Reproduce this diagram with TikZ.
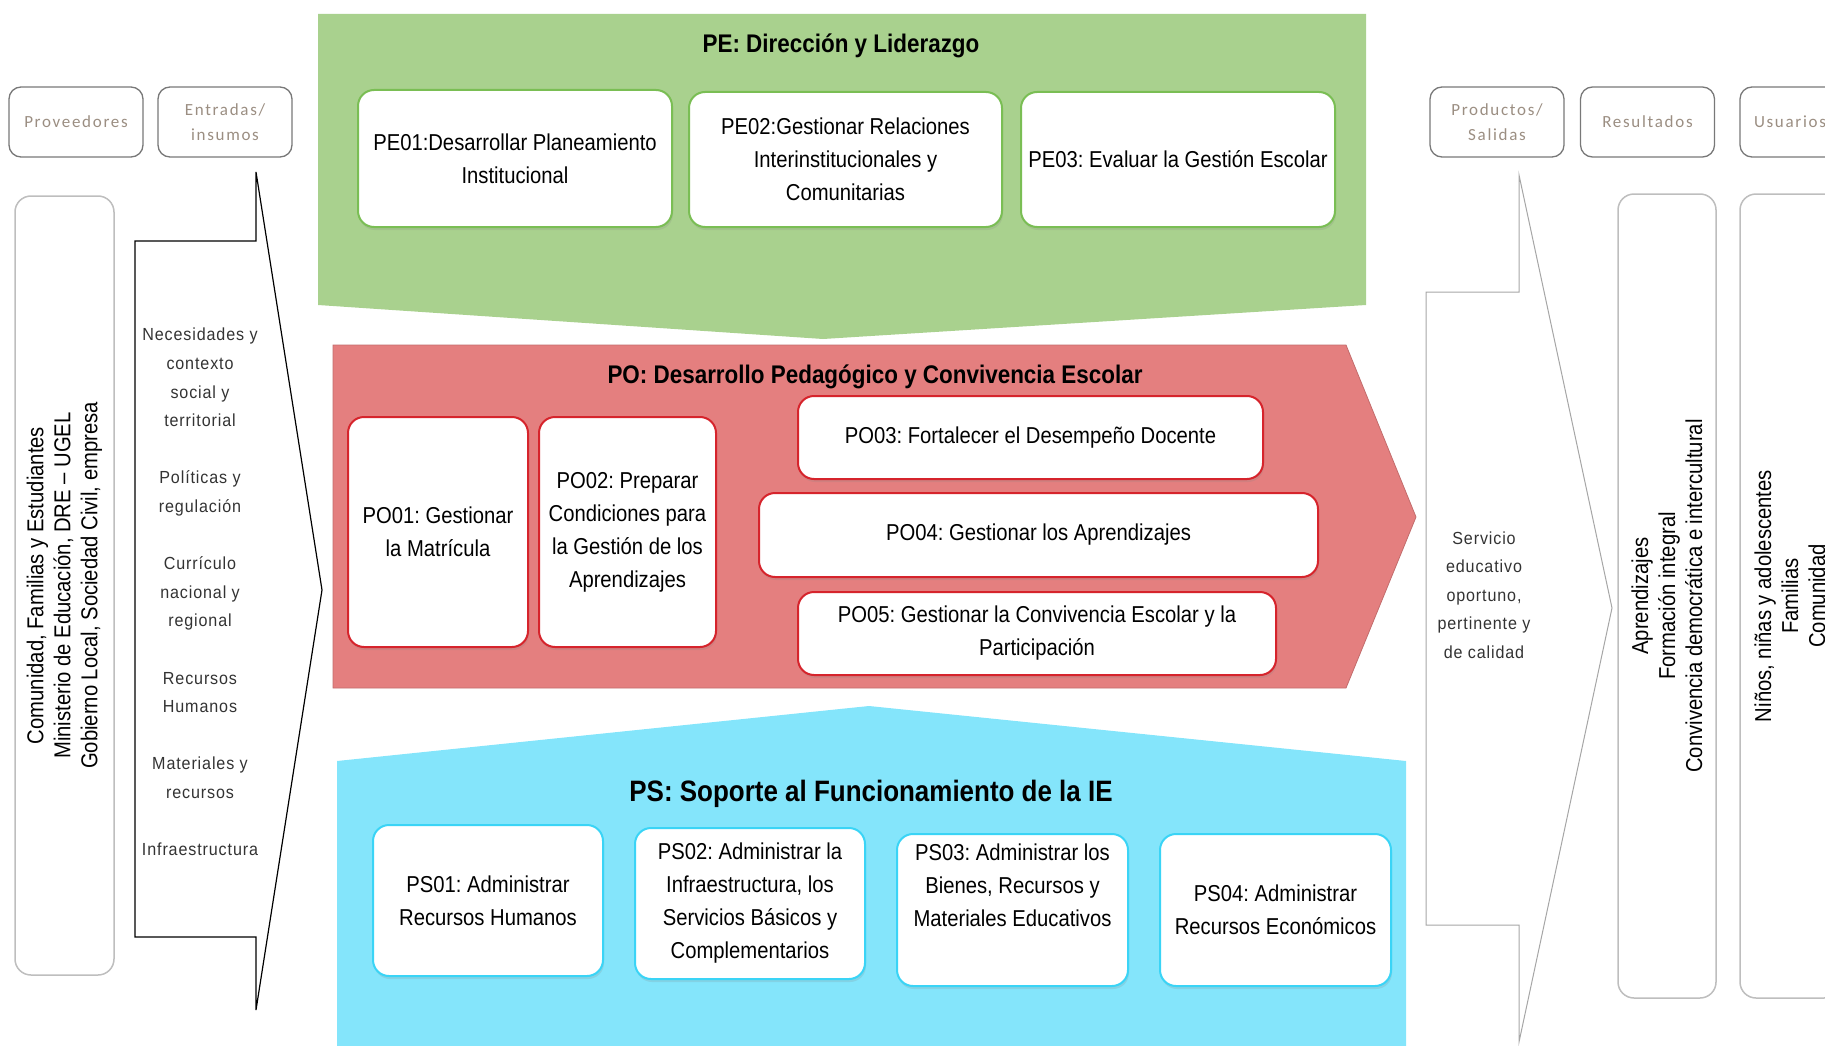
\documentclass[tikz,border=0pt]{standalone}
\usepackage{fontspec}
\setmainfont{Liberation Sans}
\newfontfamily\narrowfont[FakeStretch=0.88]{Liberation Sans}
\newfontfamily\listfont[FakeStretch=0.92,LetterSpace=5]{Liberation Sans}
\newfontfamily\hdrfont[LetterSpace=10]{Carlito}
\usetikzlibrary{shadows}
\frenchspacing
\definecolor{pegreen}{RGB}{169,209,142}
\definecolor{pegreenline}{RGB}{122,190,84}
\definecolor{pored}{RGB}{228,127,127}
\definecolor{poredline}{RGB}{214,36,44}
\definecolor{pscyan}{RGB}{132,229,251}
\definecolor{pscyanline}{RGB}{58,212,246}
\definecolor{hdrtext}{RGB}{155,142,130}
\definecolor{hdrline}{RGB}{120,120,120}
\definecolor{tallline}{RGB}{190,190,190}
\tikzstyle{hdr} = [rectangle, rounded corners=12pt, draw=hdrline, line width=1.3pt, fill=white, minimum width=134pt, minimum height=70pt, inner sep=0pt, align=center, text=hdrtext, font=\hdrfont\fontsize{17}{25}\selectfont]
\tikzstyle{tallbox} = [rectangle, rounded corners=16pt, draw=tallline, line width=1.5pt, fill=white, rotate=90, inner sep=0pt, align=center, font=\narrowfont\fontsize{23}{27}\selectfont]
\tikzstyle{procbox} = [rectangle, rounded corners=16pt, fill=white, line width=2pt, inner sep=0pt, align=center, font=\narrowfont\fontsize{23}{33}\selectfont, drop shadow={opacity=0.18, shadow xshift=1pt, shadow yshift=-3pt}]
\tikzstyle{pebox} = [procbox, draw=pegreenline]
\tikzstyle{pobox} = [procbox, draw=poredline]
\tikzstyle{psbox} = [procbox, draw=pscyanline]
\tikzstyle{grouptitle} = [inner sep=0pt, font=\narrowfont\bfseries\fontsize{25.5}{30}\selectfont]
\tikzstyle{listtext} = [inner sep=0pt, align=center, text=black!80, font=\listfont\fontsize{17.5}{28.6}\selectfont]
\tikzstyle{bigarrow} = [fill=white, line width=1.2pt, line join=miter]

\begin{document}
\begin{tikzpicture}[x=1pt, y=-1pt]
	\useasboundingbox (0,0) rectangle (1825,1046);
	\clip (0,0) rectangle (1825,1046);

	% process bands
	\fill [pegreen] (318,14) -- (1366,14) -- (1366,305) -- (823,339) -- (318,305) -- cycle;
	\filldraw [fill=pored, draw=pored!85!black, line width=0.8pt] (333,345) -- (1346,345) -- (1416,517) -- (1346,688) -- (333,688) -- cycle;
	\fill [pscyan] (337,761) -- (869,706) -- (1406,761) -- (1406,1060) -- (337,1060) -- cycle;

	% inputs / outputs arrows
	\draw [bigarrow, draw=black] (256,172) -- (256,241) -- (135,241) -- (135,937) -- (256,937) -- (256,1010) -- (322,590) -- cycle;
	\draw [bigarrow, draw=black!35, line width=1pt] (1519,175) -- (1519,292) -- (1426,292) -- (1426,925) -- (1519,925) -- (1519,1042) -- (1612,608) -- cycle;

	% headers
	\node (prov) [hdr] at (76,122) {Proveedores};
	\node (entr) [hdr] at (225,122) {Entradas/\\insumos};
	\node (prod) [hdr] at (1497,122) {Productos/\\Salidas};
	\node (resu) [hdr] at (1647.5,122) {Resultados};
	\node (usua) [hdr, minimum width=100pt] at (1790,122) {Usuarios};

	\node (provlist) [tallbox, minimum width=779pt, minimum height=99pt] at (64.5,585.5) {Comunidad, Familias y Estudiantes\\Ministerio de Educación, DRE – UGEL\\Gobierno Local, Sociedad Civil, empresa};
	\node (resulist) [tallbox, minimum width=804pt, minimum height=98pt] at (1667,596) {Aprendizajes\\Formación integral\\Convivencia democrática e intercultural};
	\node (usualist) [tallbox, minimum width=804pt, minimum height=100pt] at (1790,596) {Niños, niñas y adolescentes\\Familias\\Comunidad};

	\node (entrlist) [listtext] at (200,592) {Necesidades y\\contexto\\social y\\territorial\\[28.6pt]Políticas y\\regulación\\[28.6pt]Currículo\\nacional y\\regional\\[28.6pt]Recursos\\Humanos\\[28.6pt]Materiales y\\recursos\\[28.6pt]Infraestructura};
	\node (prodlist) [listtext] at (1484,595) {Servicio\\educativo\\oportuno,\\pertinente y\\de calidad};

	% PE
	\node (petitle) [grouptitle] at (841,46) {PE: Dirección y Liderazgo};
	\node (pe01) [pebox, minimum width=314pt, minimum height=137pt] at (515,158.5) {PE01:Desarrollar Planeamiento\\Institucional};
	\node (pe02) [pebox, minimum width=313pt, minimum height=135pt] at (845.5,159.5) {PE02:Gestionar Relaciones\\Interinstitucionales y\\Comunitarias};
	\node (pe03) [pebox, minimum width=314pt, minimum height=135pt] at (1178,159.5) {PE03: Evaluar la Gestión Escolar};

	% PO
	\node (potitle) [grouptitle] at (875,377) {PO: Desarrollo Pedagógico y Convivencia Escolar};
	\node (po01) [pobox, minimum width=180pt, minimum height=230pt] at (438,532) {PO01: Gestionar\\la Matrícula};
	\node (po02) [pobox, minimum width=177pt, minimum height=230pt] at (627.5,532) {PO02: Preparar\\Condiciones para\\la Gestión de los\\Aprendizajes};
	\node (po03) [pobox, minimum width=465pt, minimum height=83pt] at (1030.5,437.5) {PO03: Fortalecer el Desempeño Docente};
	\node (po04) [pobox, minimum width=559pt, minimum height=84pt] at (1038.5,535) {PO04: Gestionar los Aprendizajes};
	\node (po05) [pobox, minimum width=478pt, minimum height=83pt] at (1037,633.5) {PO05: Gestionar la Convivencia Escolar y la\\Participación};

	% PS
	\node (pstitle) [grouptitle, font=\narrowfont\bfseries\fontsize{29.5}{34}\selectfont] at (871,794) {PS: Soporte al Funcionamiento de la IE};
	\node (ps01) [psbox, minimum width=230pt, minimum height=151pt] at (488,900.5) {PS01: Administrar\\Recursos Humanos};
	\node (ps02) [psbox, minimum width=230pt, minimum height=151pt] at (750,903.5) {PS02: Administrar la\\Infraestructura, los\\Servicios Básicos y\\Complementarios};
	\node (ps03) [psbox, minimum width=231pt, minimum height=152pt] at (1012.5,910) {};
	\node (ps03txt) [align=center, inner sep=0pt, font=\narrowfont\fontsize{23}{33}\selectfont] at (1012.5,885.5) {PS03: Administrar los\\Bienes, Recursos y\\Materiales Educativos};
	\node (ps04) [psbox, minimum width=231pt, minimum height=152pt] at (1275.5,910) {PS04: Administrar\\Recursos Económicos};
\end{tikzpicture}
\end{document}
